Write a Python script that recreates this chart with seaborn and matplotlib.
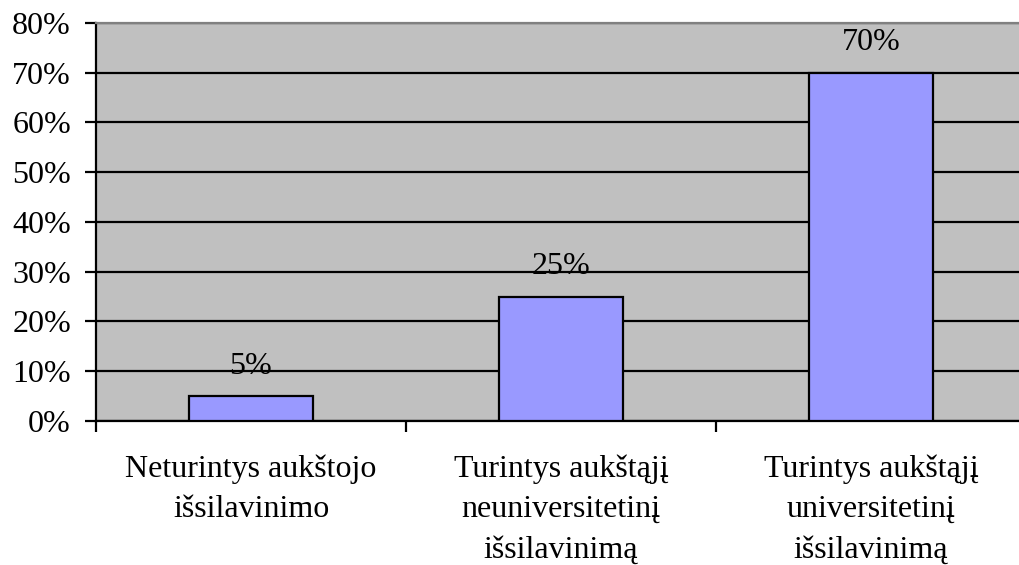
import numpy as np
import pandas as pd
import matplotlib
matplotlib.use("Agg")
import matplotlib.pyplot as plt
import seaborn as sns
from matplotlib.ticker import FixedLocator, PercentFormatter

categories = [
    "Neturintys aukštojo\nišsilavinimo",
    "Turintys aukštąjį\nneuniversitetinį\nišsilavinimą",
    "Turintys aukštąjį\nuniversitetinį\nišsilavinimą",
]
values = [5, 25, 70]
yticks = [0, 10, 20, 30, 40, 50, 60, 70, 80]

sns.set_style("white")
plt.rcParams['font.family'] = ['Liberation Serif', 'DejaVu Serif']
plt.rcParams['font.size'] = 23
plt.rcParams['text.color'] = 'black'
plt.rcParams['xtick.color'] = 'black'
plt.rcParams['ytick.color'] = 'black'

df = pd.DataFrame({"cat": categories, "val": values})

fig = plt.figure(figsize=(10.19, 5.65), dpi=100)
ax = fig.add_axes([0.0942, 0.2549, 0.9127, 0.7044])
ax.set_facecolor("#C0C0C0")

sns.barplot(data=df, x="cat", y="val", color="#9999FF", edgecolor="black",
            linewidth=1.6, width=0.4, saturation=1, ax=ax, zorder=3)

ax.set_ylim(0, 80)
ax.set_xlim(-0.5, len(categories) - 0.5)
ax.yaxis.set_major_locator(FixedLocator(yticks))
ax.yaxis.set_major_formatter(PercentFormatter(decimals=0))
ax.grid(axis="y", color="black", linewidth=1.6, zorder=1)
ax.set_axisbelow(True)

ax.set_xlabel("")
ax.set_ylabel("")
ax.tick_params(axis="y", direction="out", length=8, width=1.6, color="black",
               left=True, pad=10, labelsize=23, labelcolor="black")
ax.tick_params(axis="x", which="major", length=0, pad=24, labelsize=23,
               labelcolor="black")
ax.xaxis.set_minor_locator(FixedLocator(np.arange(-0.5, len(categories), 1.0)))
ax.tick_params(axis="x", which="minor", direction="out", length=8, width=1.6,
               color="black", bottom=True)
for lbl in ax.get_xticklabels():
    lbl.set_linespacing(1.52)

for s in ["left", "bottom"]:
    ax.spines[s].set_color("black")
    ax.spines[s].set_linewidth(1.6)
ax.spines["top"].set_color("#808080")
ax.spines["top"].set_linewidth(1.6)
ax.spines["right"].set_visible(False)

for i, v in enumerate(values):
    ax.annotate(f"{v}%", (i, v), xytext=(0, 11), textcoords="offset points",
                ha="center", va="bottom", fontsize=23, color="black", zorder=4)

fig.savefig("out.png", dpi=100)
